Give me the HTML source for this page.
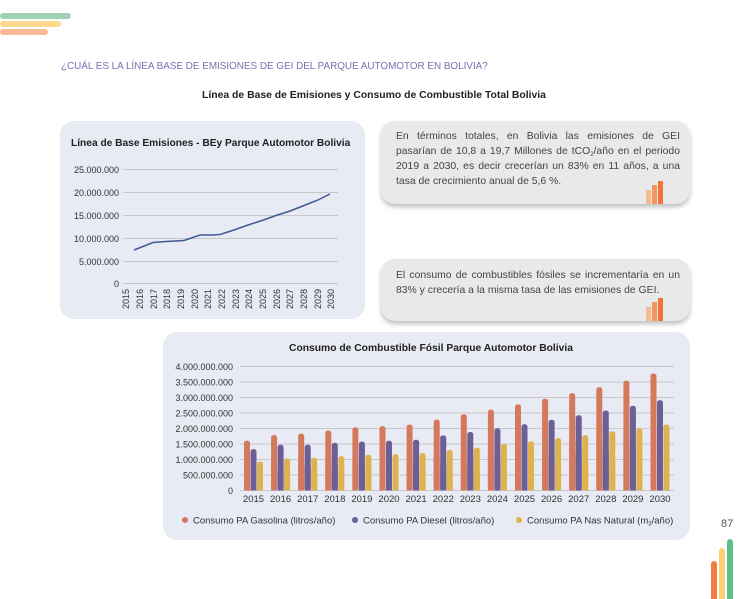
<!DOCTYPE html>
<html><head><meta charset="utf-8"><style>
body{margin:0;width:749px;height:599px;background:#fff;overflow:hidden;font-family:"Liberation Sans",sans-serif}
svg{display:block}
.box{position:absolute;background:#e9e9eb;border-radius:14px;box-shadow:0 3px 5px rgba(0,0,0,.25);font-size:10.4px;color:#444;line-height:15px;text-align:justify;box-sizing:border-box;padding:8px 10px 8px 15px}
sub{font-size:6px;line-height:0;vertical-align:-2px}
</style></head><body>
<div style="position:absolute;left:0;top:0">
<svg width="749" height="599" xmlns="http://www.w3.org/2000/svg" font-family="Liberation Sans, sans-serif">
<rect x="0" y="13" width="71" height="6" rx="3" fill="#9fd4b2"/>
<rect x="0" y="21" width="61" height="6" rx="3" fill="#fbd98f"/>
<rect x="0" y="29" width="48" height="6" rx="3" fill="#f7ba92"/>
<text x="61" y="69" font-size="9.9" fill="#7b6fb0">¿CUÁL ES LA LÍNEA BASE DE EMISIONES DE GEI DEL PARQUE AUTOMOTOR EN BOLIVIA?</text>
<text x="374" y="98" font-size="10.4" font-weight="bold" fill="#222" text-anchor="middle">Línea de Base de Emisiones y Consumo de Combustible Total Bolivia</text>
<rect x="60" y="121" width="305" height="198" rx="14" fill="#e8eaf4"/>
<text x="71" y="146" font-size="10.2" font-weight="bold" fill="#222">Línea de Base Emisiones - BEy Parque Automotor Bolivia</text>
<g stroke="#c8c8cc" stroke-width="1">
<line x1="123" x2="338" y1="169.5" y2="169.5"/><line x1="123" x2="338" y1="192.5" y2="192.5"/><line x1="123" x2="338" y1="215.5" y2="215.5"/><line x1="123" x2="338" y1="238.5" y2="238.5"/><line x1="123" x2="338" y1="261.5" y2="261.5"/><line x1="123" x2="338" y1="283.5" y2="283.5"/>
</g>
<g font-size="9" fill="#333" text-anchor="end">
<text x="119" y="173">25.000.000</text><text x="119" y="196">20.000.000</text><text x="119" y="219">15.000.000</text><text x="119" y="242">10.000.000</text><text x="119" y="265">5.000.000</text><text x="119" y="287">0</text>
</g>
<g font-size="9" fill="#333" text-anchor="end">
<text transform="translate(129,289) rotate(-90)">2015</text><text transform="translate(143,289) rotate(-90)">2016</text><text transform="translate(157,289) rotate(-90)">2017</text><text transform="translate(170,289) rotate(-90)">2018</text><text transform="translate(184,289) rotate(-90)">2019</text><text transform="translate(198,289) rotate(-90)">2020</text><text transform="translate(211,289) rotate(-90)">2021</text><text transform="translate(225,289) rotate(-90)">2022</text><text transform="translate(239,289) rotate(-90)">2023</text><text transform="translate(252,289) rotate(-90)">2024</text><text transform="translate(266,289) rotate(-90)">2025</text><text transform="translate(280,289) rotate(-90)">2026</text><text transform="translate(293,289) rotate(-90)">2027</text><text transform="translate(307,289) rotate(-90)">2028</text><text transform="translate(321,289) rotate(-90)">2029</text><text transform="translate(334,289) rotate(-90)">2030</text>
</g>
<polyline fill="none" stroke="#3f5a93" stroke-width="1.5" points="134,250 153,242.5 166,241.5 184,240.5 200,235 212,235 220,234.5 234,230 248,225 262,220.5 276,215.5 290,211 304,205.5 318,200 330,194"/>
<rect x="163" y="332" width="527" height="208" rx="14" fill="#e8eaf4"/>
<text x="431" y="351" font-size="10.3" font-weight="bold" fill="#222" text-anchor="middle">Consumo de Combustible Fósil Parque Automotor Bolivia</text>
<g stroke="#c8c8cc" stroke-width="1">
<line x1="240" x2="674" y1="366.5" y2="366.5"/><line x1="240" x2="674" y1="382" y2="382"/><line x1="240" x2="674" y1="397.5" y2="397.5"/><line x1="240" x2="674" y1="413" y2="413"/><line x1="240" x2="674" y1="428.5" y2="428.5"/><line x1="240" x2="674" y1="444" y2="444"/><line x1="240" x2="674" y1="459.5" y2="459.5"/><line x1="240" x2="674" y1="475" y2="475"/><line x1="240" x2="674" y1="490.5" y2="490.5"/>
</g>
<g font-size="9" fill="#333" text-anchor="end">
<text x="233" y="370">4.000.000.000</text><text x="233" y="385.5">3.500.000.000</text><text x="233" y="401">3.000.000.000</text><text x="233" y="416.5">2.500.000.000</text><text x="233" y="432">2.000.000.000</text><text x="233" y="447.5">1.500.000.000</text><text x="233" y="463">1.000.000.000</text><text x="233" y="478.5">500.000.000</text><text x="233" y="494">0</text>
</g>
<g id="bars"></g>
<g font-size="9.5" fill="#333" text-anchor="middle" id="yrs"></g>
<circle cx="185" cy="520" r="3" fill="#d4795d"/>
<text x="193" y="523.5" font-size="9.5" fill="#333">Consumo PA Gasolina (litros/año)</text>
<circle cx="355" cy="520" r="3" fill="#6c5f96"/>
<text x="363" y="523.5" font-size="9.5" fill="#333">Consumo PA Diesel (litros/año)</text>
<circle cx="519" cy="520" r="3" fill="#ddb24f"/>
<text x="527" y="523.5" font-size="9.5" fill="#333">Consumo PA Nas Natural (m<tspan font-size="6" dy="2">3</tspan><tspan dy="-2">/año)</tspan></text>
<text x="721" y="527" font-size="11" fill="#555">87</text>
<rect x="711" y="561" width="6" height="40" rx="3" fill="#f07c43"/>
<rect x="719" y="548" width="6" height="53" rx="3" fill="#fbd070"/>
<rect x="727" y="539" width="6" height="62" rx="3" fill="#5cbf87"/>
</svg></div>
<div class="box" style="left:381px;top:121px;width:309px;height:83px">En términos totales, en Bolivia las emisiones de GEI pasarían de 10,8 a 19,7 Millones de tCO<sub>2</sub>/año en el periodo 2019 a 2030, es decir crecerían un 83% en 11 años, a una tasa de crecimiento anual de 5,6 %.</div>
<div class="box" style="left:381px;top:259px;width:309px;height:62px;padding-top:9px">El consumo de combustibles fósiles se incrementaría en un 83% y crecería a la misma tasa de las emisiones de GEI.</div>
<svg style="position:absolute;left:645px;top:180px" width="22" height="24"><rect x="1" y="10" width="5" height="14" fill="#f7b98e"/><rect x="7" y="5" width="5" height="19" fill="#f39560"/><rect x="13" y="1" width="5" height="23" fill="#ee7438"/></svg>
<svg style="position:absolute;left:645px;top:297px" width="22" height="24"><rect x="1" y="10" width="5" height="14" fill="#f7b98e"/><rect x="7" y="5" width="5" height="19" fill="#f39560"/><rect x="13" y="1" width="5" height="23" fill="#ee7438"/></svg>
<script>
var g=[1.6,1.78,1.83,1.93,2.03,2.07,2.12,2.28,2.45,2.6,2.77,2.95,3.13,3.32,3.53,3.76];
var d=[1.33,1.47,1.47,1.53,1.57,1.6,1.63,1.77,1.88,2.0,2.13,2.27,2.42,2.57,2.72,2.9];
var n=[0.93,1.03,1.05,1.1,1.15,1.17,1.2,1.3,1.38,1.5,1.58,1.68,1.78,1.9,2.0,2.12];
var s='',t='';
function b(x,v,c){var h=v*31.1;return '<rect x="'+x+'" y="'+(490.5-h)+'" width="6" height="'+h+'" rx="2.5" fill="'+c+'"/><rect x="'+x+'" y="'+(490.5-h/2)+'" width="6" height="'+(h/2)+'" fill="'+c+'"/>';}
for(var i=0;i<16;i++){var x=244+i*27.1;s+=b(x,g[i],'#d4795d')+b(x+6.5,d[i],'#6c5f96')+b(x+13,n[i],'#ddb24f');t+='<text x="'+(x+9.5)+'" y="502">'+(2015+i)+'</text>';}
document.getElementById('bars').innerHTML=s;document.getElementById('yrs').innerHTML=t;
</script>
</body></html>
